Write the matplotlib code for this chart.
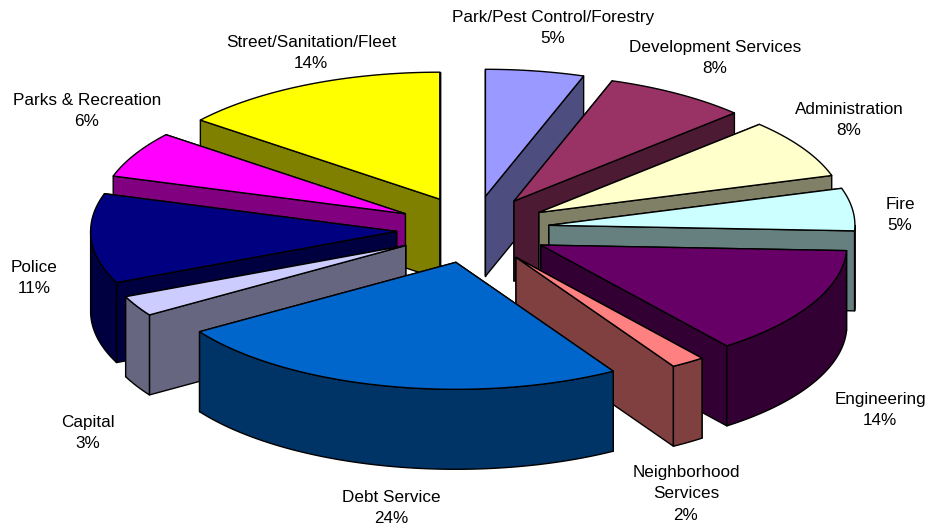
import matplotlib
matplotlib.use("Agg")
import matplotlib.pyplot as plt
import numpy as np
from matplotlib.patches import Polygon

plt.rcParams['font.family'] = ['Liberation Sans', 'DejaVu Sans']

# data, clockwise from 12 o'clock
names = ["Park/Pest Control/Forestry", "Development Services", "Administration", "Fire",
         "Engineering", "Neighborhood\nServices", "Debt Service", "Capital", "Police",
         "Parks & Recreation", "Street/Sanitation/Fleet"]
values = [5.2, 7.6, 7.5, 5.4, 13.9, 1.8, 24.4, 2.6, 11.4, 5.9, 14.3]
top_colors = ["#9999FF", "#993366", "#FFFFCC", "#CCFFFF", "#660066", "#FF8080",
              "#0066CC", "#CCCCFF", "#000080", "#FF00FF", "#FFFF00"]
side_colors = ["#4D4D80", "#4D1A33", "#808066", "#668080", "#330033", "#804040",
               "#003366", "#666680", "#000040", "#800080", "#808000"]
label_x = [553, 715, 849, 900, 880, 686, 391, 88, 34, 87, 311]
label_y = [28, 58, 120, 215, 410, 494, 508, 433, 278, 111, 53]

# fake 3d projection of the pie
cx, cy = 473, 229.5
rx, ry = 306, 127
explode_x, explode_y = 0.25, 0.265
depth = 80


def rim(a, apex_x, apex_y, dy=0):
    return np.column_stack([apex_x + rx * np.sin(a), apex_y - ry * np.cos(a) + dy])


fig = plt.figure(figsize=(9.39, 5.31), dpi=100)
ax = fig.add_axes([0, 0, 1, 1])
ax.set_xlim(0, 939)
ax.set_ylim(531, 0)
ax.axis("off")

edges = np.cumsum([0] + values) / sum(values) * 2 * np.pi
mids = (edges[:-1] + edges[1:]) / 2

# back slices first
order = sorted(range(len(values)), key=lambda i: -np.cos(mids[i]))
for z, i in enumerate(order):
    a0, a1 = edges[i], edges[i + 1]
    ox = cx + explode_x * rx * np.sin(mids[i])
    oy = cy - explode_y * ry * np.cos(mids[i])
    zo = z * 10 + 3
    kw = dict(edgecolor="black", linewidth=1.0, joinstyle="round")

    # the two flat cut faces, further back one first
    for a in sorted([a0, a1], key=lambda t: -np.cos(t)):
        p = rim(np.array([a]), ox, oy)[0]
        ax.add_patch(Polygon([(ox, oy), p, (p[0], p[1] + depth), (ox, oy + depth)],
                             facecolor=side_colors[i], zorder=zo, **kw))
        zo += 1

    # outer wall, only the front half of the ellipse shows
    w0, w1 = max(a0, np.pi / 2), min(a1, 3 * np.pi / 2)
    if w1 > w0:
        t = np.linspace(w0, w1, 80)
        pts = np.vstack([rim(t, ox, oy), rim(t[::-1], ox, oy, depth)])
        ax.add_patch(Polygon(pts, facecolor=side_colors[i], zorder=zo, **kw))
    zo += 1

    t = np.linspace(a0, a1, 80)
    pts = np.vstack([[(ox, oy)], rim(t, ox, oy)])
    ax.add_patch(Polygon(pts, facecolor=top_colors[i], zorder=zo, **kw))

for n, v, x, y in zip(names, values, label_x, label_y):
    ax.text(x, y, f"{n}\n{round(v)}%", ha="center", va="center", fontsize=12.3,
            linespacing=1.56, color="black", zorder=500)

fig.savefig("out.png", dpi=100)
